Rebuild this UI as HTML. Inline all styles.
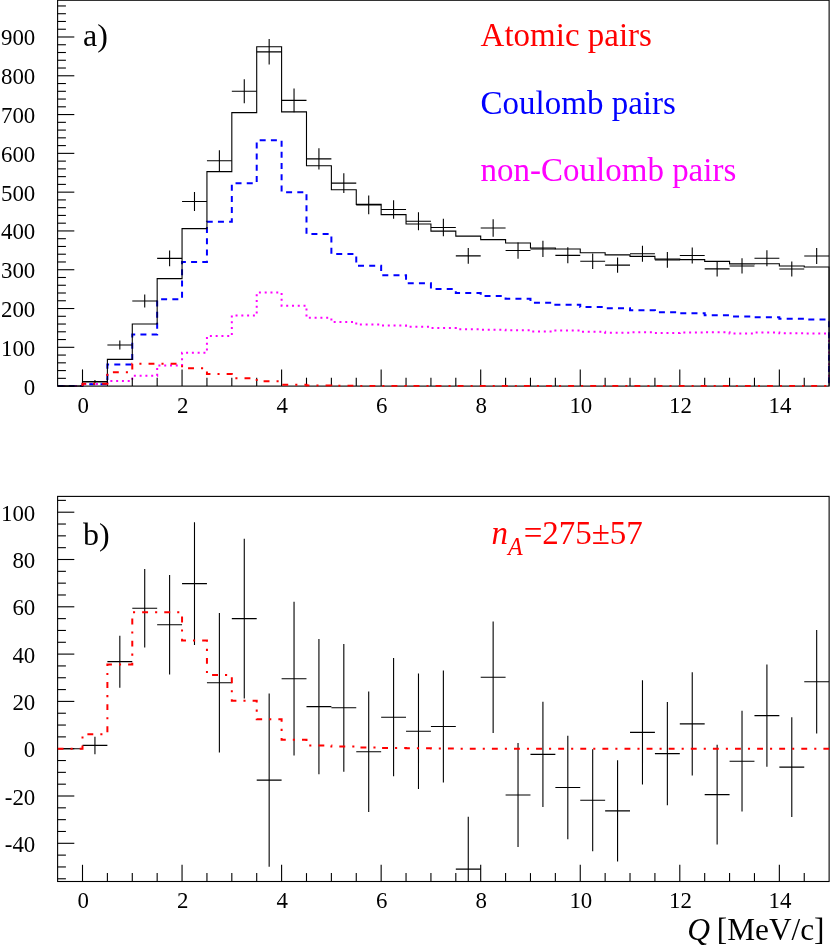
<!DOCTYPE html>
<html><head><meta charset="utf-8"><title>chart</title>
<style>html,body{margin:0;padding:0;background:#fff}body{width:830px;height:947px;position:relative;overflow:hidden;font-family:"Liberation Serif",serif}</style>
</head><body>
<svg width="830" height="947" viewBox="0 0 830 947" style="position:absolute;left:0;top:0">
<rect width="830" height="947" fill="#fff"/>
<clipPath id="ca"><rect x="57.61" y="0.25" width="772.11" height="386.45"/></clipPath>
<clipPath id="cb"><rect x="57.61" y="496.4" width="772.11" height="385.1"/></clipPath>
<g clip-path="url(#ca)" fill="none">
<path d="M57.61 386.1 L57.61 386.1 L82.5 386.1 L82.5 383.97 L107.39 383.97 L107.39 381.06 L132.28 381.06 L132.28 375.63 L157.16 375.63 L157.16 365.54 L182.05 365.54 L182.05 352.74 L206.94 352.74 L206.94 336.06 L231.82 336.06 L231.82 315.5 L256.71 315.5 L256.71 292.62 L281.6 292.62 L281.6 305.8 L306.49 305.8 L306.49 317.83 L331.38 317.83 L331.38 321.9 L356.26 321.9 L356.26 324.62 L381.15 324.62 L381.15 325.59 L406.04 325.59 L406.04 326.87 L430.93 326.87 L430.93 328.07 L455.81 328.07 L455.81 329.23 L480.7 329.23 L480.7 329.66 L505.59 329.66 L505.59 330.24 L530.47 330.24 L530.47 331.41 L555.36 331.41 L555.36 330.44 L580.25 330.44 L580.25 331.76 L605.14 331.76 L605.14 332.76 L630.02 332.76 L630.02 332.3 L654.91 332.3 L654.91 333.04 L679.8 333.04 L679.8 332.57 L704.69 332.57 L704.69 332.18 L729.57 332.18 L729.57 333.62 L754.46 333.62 L754.46 332.61 L779.35 332.61 L779.35 333.35 L804.24 333.35 L804.24 333.58 L829.12 333.58 L829.12 386.1" stroke="#f0f" stroke-width="2" stroke-dasharray="2 3.78"/>
<path d="M57.61 386.1 L57.61 386.1 L82.5 386.1 L82.5 384.16 L107.39 384.16 L107.39 364.38 L132.28 364.38 L132.28 334.51 L157.16 334.51 L157.16 299.21 L182.05 299.21 L182.05 261.97 L206.94 261.97 L206.94 221.63 L231.82 221.63 L231.82 183.23 L256.71 183.23 L256.71 140.17 L281.6 140.17 L281.6 192.15 L306.49 192.15 L306.49 234.04 L331.38 234.04 L331.38 254.02 L356.26 254.02 L356.26 265.85 L381.15 265.85 L381.15 275.16 L406.04 275.16 L406.04 283.31 L430.93 283.31 L430.93 289.12 L455.81 289.12 L455.81 293 L480.7 293 L480.7 296.11 L505.59 296.11 L505.59 298.82 L530.47 298.82 L530.47 302.7 L555.36 302.7 L555.36 304.64 L580.25 304.64 L580.25 307.12 L605.14 307.12 L605.14 308.25 L630.02 308.25 L630.02 310.19 L654.91 310.19 L654.91 312.13 L679.8 312.13 L679.8 313.17 L704.69 313.17 L704.69 315.31 L729.57 315.31 L729.57 316.39 L754.46 316.39 L754.46 317.17 L779.35 317.17 L779.35 318.76 L804.24 318.76 L804.24 319.54 L829.12 319.54 L829.12 386.1" stroke="#00f" stroke-width="2" stroke-dasharray="6 5.2"/>
<path d="M57.61 386.1 L57.61 386.1 L82.5 386.1 L82.5 382.03 L107.39 382.03 L107.39 359.33 L132.28 359.33 L132.28 324.04 L157.16 324.04 L157.16 278.65 L182.05 278.65 L182.05 228.61 L206.94 228.61 L206.94 171.59 L231.82 171.59 L231.82 112.63 L256.71 112.63 L256.71 46.69 L281.6 46.69 L281.6 111.85 L306.49 111.85 L306.49 165.77 L331.38 165.77 L331.38 189.82 L356.26 189.82 L356.26 204.37 L381.15 204.37 L381.15 214.65 L406.04 214.65 L406.04 224.07 L430.93 224.07 L430.93 231.1 L455.81 231.1 L455.81 236.14 L480.7 236.14 L480.7 239.67 L505.59 239.67 L505.59 242.96 L530.47 242.96 L530.47 248.01 L555.36 248.01 L555.36 248.98 L580.25 248.98 L580.25 252.78 L605.14 252.78 L605.14 254.91 L630.02 254.91 L630.02 256.39 L654.91 256.39 L654.91 259.06 L679.8 259.06 L679.8 259.64 L704.69 259.64 L704.69 261.39 L729.57 261.39 L729.57 263.91 L754.46 263.91 L754.46 263.68 L779.35 263.68 L779.35 266.01 L804.24 266.01 L804.24 267.01 L829.12 267.01 L829.12 386.1" stroke="#000" stroke-width="1.1"/>
</g>
<g stroke="#000" stroke-width="1.1" fill="none">
<rect x="57.61" y="0.25" width="771.51" height="385.85"/>
<rect x="57.61" y="496.4" width="771.51" height="385.1"/>
<path d="M82.5 386.1 V369.4"/>
<path d="M107.39 386.1 V377.7"/>
<path d="M132.28 386.1 V377.7"/>
<path d="M157.16 386.1 V377.7"/>
<path d="M182.05 386.1 V369.4"/>
<path d="M206.94 386.1 V377.7"/>
<path d="M231.82 386.1 V377.7"/>
<path d="M256.71 386.1 V377.7"/>
<path d="M281.6 386.1 V369.4"/>
<path d="M306.49 386.1 V377.7"/>
<path d="M331.38 386.1 V377.7"/>
<path d="M356.26 386.1 V377.7"/>
<path d="M381.15 386.1 V369.4"/>
<path d="M406.04 386.1 V377.7"/>
<path d="M430.93 386.1 V377.7"/>
<path d="M455.81 386.1 V377.7"/>
<path d="M480.7 386.1 V369.4"/>
<path d="M505.59 386.1 V377.7"/>
<path d="M530.47 386.1 V377.7"/>
<path d="M555.36 386.1 V377.7"/>
<path d="M580.25 386.1 V369.4"/>
<path d="M605.14 386.1 V377.7"/>
<path d="M630.02 386.1 V377.7"/>
<path d="M654.91 386.1 V377.7"/>
<path d="M679.8 386.1 V369.4"/>
<path d="M704.69 386.1 V377.7"/>
<path d="M729.57 386.1 V377.7"/>
<path d="M754.46 386.1 V377.7"/>
<path d="M779.35 386.1 V369.4"/>
<path d="M804.24 386.1 V377.7"/>
<path d="M82.5 881.5 V864.8"/>
<path d="M107.39 881.5 V873.1"/>
<path d="M132.28 881.5 V873.1"/>
<path d="M157.16 881.5 V873.1"/>
<path d="M182.05 881.5 V864.8"/>
<path d="M206.94 881.5 V873.1"/>
<path d="M231.82 881.5 V873.1"/>
<path d="M256.71 881.5 V873.1"/>
<path d="M281.6 881.5 V864.8"/>
<path d="M306.49 881.5 V873.1"/>
<path d="M331.38 881.5 V873.1"/>
<path d="M356.26 881.5 V873.1"/>
<path d="M381.15 881.5 V864.8"/>
<path d="M406.04 881.5 V873.1"/>
<path d="M430.93 881.5 V873.1"/>
<path d="M455.81 881.5 V873.1"/>
<path d="M480.7 881.5 V864.8"/>
<path d="M505.59 881.5 V873.1"/>
<path d="M530.47 881.5 V873.1"/>
<path d="M555.36 881.5 V873.1"/>
<path d="M580.25 881.5 V864.8"/>
<path d="M605.14 881.5 V873.1"/>
<path d="M630.02 881.5 V873.1"/>
<path d="M654.91 881.5 V873.1"/>
<path d="M679.8 881.5 V864.8"/>
<path d="M704.69 881.5 V873.1"/>
<path d="M729.57 881.5 V873.1"/>
<path d="M754.46 881.5 V873.1"/>
<path d="M779.35 881.5 V864.8"/>
<path d="M804.24 881.5 V873.1"/>
<path d="M57.61 386.1 H74.31"/>
<path d="M57.61 378.34 H65.91"/>
<path d="M57.61 370.58 H65.91"/>
<path d="M57.61 362.83 H65.91"/>
<path d="M57.61 355.07 H65.91"/>
<path d="M57.61 347.31 H74.31"/>
<path d="M57.61 339.55 H65.91"/>
<path d="M57.61 331.79 H65.91"/>
<path d="M57.61 324.04 H65.91"/>
<path d="M57.61 316.28 H65.91"/>
<path d="M57.61 308.52 H74.31"/>
<path d="M57.61 300.76 H65.91"/>
<path d="M57.61 293 H65.91"/>
<path d="M57.61 285.25 H65.91"/>
<path d="M57.61 277.49 H65.91"/>
<path d="M57.61 269.73 H74.31"/>
<path d="M57.61 261.97 H65.91"/>
<path d="M57.61 254.21 H65.91"/>
<path d="M57.61 246.46 H65.91"/>
<path d="M57.61 238.7 H65.91"/>
<path d="M57.61 230.94 H74.31"/>
<path d="M57.61 223.18 H65.91"/>
<path d="M57.61 215.42 H65.91"/>
<path d="M57.61 207.67 H65.91"/>
<path d="M57.61 199.91 H65.91"/>
<path d="M57.61 192.15 H74.31"/>
<path d="M57.61 184.39 H65.91"/>
<path d="M57.61 176.63 H65.91"/>
<path d="M57.61 168.88 H65.91"/>
<path d="M57.61 161.12 H65.91"/>
<path d="M57.61 153.36 H74.31"/>
<path d="M57.61 145.6 H65.91"/>
<path d="M57.61 137.84 H65.91"/>
<path d="M57.61 130.09 H65.91"/>
<path d="M57.61 122.33 H65.91"/>
<path d="M57.61 114.57 H74.31"/>
<path d="M57.61 106.81 H65.91"/>
<path d="M57.61 99.05 H65.91"/>
<path d="M57.61 91.3 H65.91"/>
<path d="M57.61 83.54 H65.91"/>
<path d="M57.61 75.78 H74.31"/>
<path d="M57.61 68.02 H65.91"/>
<path d="M57.61 60.26 H65.91"/>
<path d="M57.61 52.51 H65.91"/>
<path d="M57.61 44.75 H65.91"/>
<path d="M57.61 36.99 H74.31"/>
<path d="M57.61 29.23 H65.91"/>
<path d="M57.61 21.47 H65.91"/>
<path d="M57.61 13.72 H65.91"/>
<path d="M57.61 5.96 H65.91"/>
<path d="M57.61 878.78 H65.91"/>
<path d="M57.61 866.95 H65.91"/>
<path d="M57.61 855.12 H65.91"/>
<path d="M57.61 843.3 H74.31"/>
<path d="M57.61 831.48 H65.91"/>
<path d="M57.61 819.65 H65.91"/>
<path d="M57.61 807.83 H65.91"/>
<path d="M57.61 796 H74.31"/>
<path d="M57.61 784.18 H65.91"/>
<path d="M57.61 772.35 H65.91"/>
<path d="M57.61 760.53 H65.91"/>
<path d="M57.61 748.7 H74.31"/>
<path d="M57.61 736.88 H65.91"/>
<path d="M57.61 725.05 H65.91"/>
<path d="M57.61 713.23 H65.91"/>
<path d="M57.61 701.4 H74.31"/>
<path d="M57.61 689.58 H65.91"/>
<path d="M57.61 677.75 H65.91"/>
<path d="M57.61 665.93 H65.91"/>
<path d="M57.61 654.1 H74.31"/>
<path d="M57.61 642.28 H65.91"/>
<path d="M57.61 630.45 H65.91"/>
<path d="M57.61 618.62 H65.91"/>
<path d="M57.61 606.8 H74.31"/>
<path d="M57.61 594.98 H65.91"/>
<path d="M57.61 583.15 H65.91"/>
<path d="M57.61 571.33 H65.91"/>
<path d="M57.61 559.5 H74.31"/>
<path d="M57.61 547.68 H65.91"/>
<path d="M57.61 535.85 H65.91"/>
<path d="M57.61 524.03 H65.91"/>
<path d="M57.61 512.2 H74.31"/>
<path d="M57.61 500.38 H65.91"/>
</g>
<g clip-path="url(#ca)" fill="none">
<g stroke="#000" stroke-width="1.1">
<path d="M82.5 381.48 H107.39 M94.94 382.98 V379.99"/>
<path d="M107.39 345.06 H132.28 M119.83 349.53 V340.59"/>
<path d="M132.28 300.99 H157.16 M144.72 307.43 V294.56"/>
<path d="M157.16 258.33 H182.05 M169.61 266.21 V250.44"/>
<path d="M182.05 201.54 H206.94 M194.49 211.01 V192.06"/>
<path d="M206.94 160.77 H231.82 M219.38 171.24 V150.3"/>
<path d="M231.82 91.3 H256.71 M244.27 103.27 V79.32"/>
<path d="M256.71 51.85 H281.6 M269.16 64.6 V39.09"/>
<path d="M281.6 100.37 H306.49 M294.04 112.16 V88.58"/>
<path d="M306.49 158.87 H331.38 M318.93 169.38 V148.35"/>
<path d="M331.38 183.11 H356.26 M343.82 193.05 V173.17"/>
<path d="M356.26 204.87 H381.15 M368.71 214.26 V195.48"/>
<path d="M381.15 209.49 H406.04 M393.59 218.76 V200.22"/>
<path d="M406.04 221.2 H430.93 M418.48 230.16 V212.25"/>
<path d="M430.93 227.45 H455.81 M443.37 236.24 V218.66"/>
<path d="M455.81 255.88 H480.7 M468.26 263.84 V247.92"/>
<path d="M480.7 227.95 H505.59 M493.14 236.73 V219.18"/>
<path d="M505.59 250.57 H530.47 M518.03 258.69 V242.45"/>
<path d="M530.47 248.94 H555.36 M542.92 257.11 V240.77"/>
<path d="M555.36 255.34 H580.25 M567.81 263.32 V247.36"/>
<path d="M580.25 261.23 H605.14 M592.69 269.03 V253.44"/>
<path d="M605.14 265.11 H630.02 M617.58 272.79 V257.44"/>
<path d="M630.02 253.71 H654.91 M642.47 261.74 V245.68"/>
<path d="M654.91 259.88 H679.8 M667.36 267.71 V252.04"/>
<path d="M679.8 255.57 H704.69 M692.24 263.54 V247.6"/>
<path d="M704.69 268.92 H729.57 M717.13 276.47 V261.36"/>
<path d="M729.57 265.97 H754.46 M742.02 273.61 V258.32"/>
<path d="M754.46 258.25 H779.35 M766.91 266.14 V250.36"/>
<path d="M779.35 269.03 H804.24 M791.79 276.58 V261.48"/>
<path d="M804.24 256.04 H829.12 M816.68 263.99 V248.08"/>
</g>
<path d="M82.5 386.1 L82.5 383.73 L107.39 383.73 L107.39 372.29 L132.28 372.29 L132.28 363.72 L157.16 363.72 L157.16 363.72 L182.05 363.72 L182.05 368.37 L206.94 368.37 L206.94 374 L231.82 374 L231.82 378.23 L256.71 378.23 L256.71 381.25 L281.6 381.25 L281.6 384.63 L306.49 384.63 L306.49 385.56 L331.38 385.56 L331.38 385.75 L356.26 385.75 L356.26 385.91 L381.15 385.91 L381.15 385.98 L406.04 385.98 L406.04 386.02 L430.93 386.02 L430.93 386.06 L455.81 386.06 L455.81 386.1 L480.7 386.1 L480.7 386.1 L505.59 386.1 L505.59 386.1 L530.47 386.1 L530.47 386.1 L555.36 386.1 L555.36 386.1 L580.25 386.1 L580.25 386.1 L605.14 386.1 L605.14 386.1 L630.02 386.1 L630.02 386.1 L654.91 386.1 L654.91 386.1 L679.8 386.1 L679.8 386.1 L704.69 386.1 L704.69 386.1 L729.57 386.1 L729.57 386.1 L754.46 386.1 L754.46 386.1 L779.35 386.1 L779.35 386.1 L804.24 386.1 L804.24 386.1 L829.12 386.1" stroke="#f00" stroke-width="2" stroke-dasharray="5.9 7.05 2.1 7.05"/>
</g>
<g clip-path="url(#cb)" fill="none">
<g stroke="#000" stroke-width="1.1">
<path d="M57.61 748.7 H82.5"/>
<path d="M82.5 745.39 H107.39 M94.94 754.14 V736.64"/>
<path d="M107.39 661.67 H132.28 M119.83 687.68 V635.65"/>
<path d="M132.28 608.22 H157.16 M144.72 647.48 V568.96"/>
<path d="M157.16 624.77 H182.05 M169.61 674.44 V575.11"/>
<path d="M182.05 583.62 H206.94 M194.49 645.11 V522.13"/>
<path d="M206.94 682.72 H231.82 M219.38 752.48 V612.95"/>
<path d="M231.82 618.62 H256.71 M244.27 698.56 V538.69"/>
<path d="M256.71 780.15 H281.6 M269.16 866.71 V693.6"/>
<path d="M281.6 678.7 H306.49 M294.04 755.56 V601.83"/>
<path d="M306.49 706.6 H331.38 M318.93 774.24 V638.96"/>
<path d="M331.38 707.79 H356.26 M343.82 771.64 V643.93"/>
<path d="M356.26 751.77 H381.15 M368.71 812.08 V691.47"/>
<path d="M381.15 717.25 H406.04 M393.59 776.37 V658.12"/>
<path d="M406.04 731.2 H430.93 M418.48 788.91 V673.49"/>
<path d="M430.93 726.47 H455.81 M443.37 782.52 V670.42"/>
<path d="M455.81 869.08 H480.7 M468.26 921.35 V816.81"/>
<path d="M480.7 677.28 H505.59 M493.14 733.09 V621.46"/>
<path d="M505.59 795.05 H530.47 M518.03 847.08 V743.02"/>
<path d="M530.47 754.38 H555.36 M542.92 806.88 V701.87"/>
<path d="M555.36 787.49 H580.25 M567.81 839.28 V735.69"/>
<path d="M580.25 800.26 H605.14 M592.69 851.34 V749.17"/>
<path d="M605.14 810.9 H630.02 M617.58 861.51 V760.29"/>
<path d="M630.02 732.38 H654.91 M642.47 784.41 V680.35"/>
<path d="M654.91 753.67 H679.8 M667.36 805.22 V702.11"/>
<path d="M679.8 723.87 H704.69 M692.24 775.42 V672.31"/>
<path d="M704.69 794.58 H729.57 M717.13 844.48 V744.68"/>
<path d="M729.57 761.23 H754.46 M742.02 811.61 V710.86"/>
<path d="M754.46 715.59 H779.35 M766.91 766.67 V664.51"/>
<path d="M779.35 767.15 H804.24 M791.79 817.05 V717.25"/>
<path d="M804.24 681.77 H829.12 M816.68 733.56 V629.98"/>
</g>
<path d="M57.61 748.7 L57.61 748.7 L82.5 748.7 L82.5 734.27 L107.39 734.27 L107.39 664.51 L132.28 664.51 L132.28 612.24 L157.16 612.24 L157.16 612.24 L182.05 612.24 L182.05 640.62 L206.94 640.62 L206.94 674.91 L231.82 674.91 L231.82 700.69 L256.71 700.69 L256.71 719.14 L281.6 719.14 L281.6 739.71 L306.49 739.71 L306.49 745.39 L331.38 745.39 L331.38 746.57 L356.26 746.57 L356.26 747.52 L381.15 747.52 L381.15 747.99 L406.04 747.99 L406.04 748.23 L430.93 748.23 L430.93 748.46 L455.81 748.46 L455.81 748.7 L480.7 748.7 L480.7 748.7 L505.59 748.7 L505.59 748.7 L530.47 748.7 L530.47 748.7 L555.36 748.7 L555.36 748.7 L580.25 748.7 L580.25 748.7 L605.14 748.7 L605.14 748.7 L630.02 748.7 L630.02 748.7 L654.91 748.7 L654.91 748.7 L679.8 748.7 L679.8 748.7 L704.69 748.7 L704.69 748.7 L729.57 748.7 L729.57 748.7 L754.46 748.7 L754.46 748.7 L779.35 748.7 L779.35 748.7 L804.24 748.7 L804.24 748.7 L829.12 748.7" stroke="#f00" stroke-width="2" stroke-dasharray="5.9 7.05 2.1 7.05"/>
</g>
<g font-family="'Liberation Serif', serif" fill="#000" opacity="0.999">
<text transform="translate(35.3 394.6) scale(1 1.05)" font-size="22.9" text-anchor="end">0</text>
<text transform="translate(35.3 355.81) scale(1 1.05)" font-size="22.9" text-anchor="end">100</text>
<text transform="translate(35.3 317.02) scale(1 1.05)" font-size="22.9" text-anchor="end">200</text>
<text transform="translate(35.3 278.23) scale(1 1.05)" font-size="22.9" text-anchor="end">300</text>
<text transform="translate(35.3 239.44) scale(1 1.05)" font-size="22.9" text-anchor="end">400</text>
<text transform="translate(35.3 200.65) scale(1 1.05)" font-size="22.9" text-anchor="end">500</text>
<text transform="translate(35.3 161.86) scale(1 1.05)" font-size="22.9" text-anchor="end">600</text>
<text transform="translate(35.3 123.07) scale(1 1.05)" font-size="22.9" text-anchor="end">700</text>
<text transform="translate(35.3 84.28) scale(1 1.05)" font-size="22.9" text-anchor="end">800</text>
<text transform="translate(35.3 45.49) scale(1 1.05)" font-size="22.9" text-anchor="end">900</text>
<text transform="translate(35.3 851.8) scale(1 1.05)" font-size="22.9" text-anchor="end">-40</text>
<text transform="translate(35.3 804.5) scale(1 1.05)" font-size="22.9" text-anchor="end">-20</text>
<text transform="translate(35.3 757.2) scale(1 1.05)" font-size="22.9" text-anchor="end">0</text>
<text transform="translate(35.3 709.9) scale(1 1.05)" font-size="22.9" text-anchor="end">20</text>
<text transform="translate(35.3 662.6) scale(1 1.05)" font-size="22.9" text-anchor="end">40</text>
<text transform="translate(35.3 615.3) scale(1 1.05)" font-size="22.9" text-anchor="end">60</text>
<text transform="translate(35.3 568) scale(1 1.05)" font-size="22.9" text-anchor="end">80</text>
<text transform="translate(35.3 520.7) scale(1 1.05)" font-size="22.9" text-anchor="end">100</text>
<text transform="translate(83.1 412.6) scale(1 1.05)" font-size="22.9" text-anchor="middle">0</text>
<text transform="translate(83.1 907.9) scale(1 1.05)" font-size="22.9" text-anchor="middle">0</text>
<text transform="translate(182.65 412.6) scale(1 1.05)" font-size="22.9" text-anchor="middle">2</text>
<text transform="translate(182.65 907.9) scale(1 1.05)" font-size="22.9" text-anchor="middle">2</text>
<text transform="translate(282.2 412.6) scale(1 1.05)" font-size="22.9" text-anchor="middle">4</text>
<text transform="translate(282.2 907.9) scale(1 1.05)" font-size="22.9" text-anchor="middle">4</text>
<text transform="translate(381.75 412.6) scale(1 1.05)" font-size="22.9" text-anchor="middle">6</text>
<text transform="translate(381.75 907.9) scale(1 1.05)" font-size="22.9" text-anchor="middle">6</text>
<text transform="translate(481.3 412.6) scale(1 1.05)" font-size="22.9" text-anchor="middle">8</text>
<text transform="translate(481.3 907.9) scale(1 1.05)" font-size="22.9" text-anchor="middle">8</text>
<text transform="translate(580.85 412.6) scale(1 1.05)" font-size="22.9" text-anchor="middle">10</text>
<text transform="translate(580.85 907.9) scale(1 1.05)" font-size="22.9" text-anchor="middle">10</text>
<text transform="translate(680.4 412.6) scale(1 1.05)" font-size="22.9" text-anchor="middle">12</text>
<text transform="translate(680.4 907.9) scale(1 1.05)" font-size="22.9" text-anchor="middle">12</text>
<text transform="translate(779.95 412.6) scale(1 1.05)" font-size="22.9" text-anchor="middle">14</text>
<text transform="translate(779.95 907.9) scale(1 1.05)" font-size="22.9" text-anchor="middle">14</text>
<text transform="translate(83 45.8) scale(1 1)" font-size="32">a)</text>
<text transform="translate(83 544.5) scale(1 1)" font-size="32">b)</text>
<text transform="translate(480.6 45.8) scale(1 1.04)" font-size="33" fill="#f00">Atomic pairs</text>
<text transform="translate(480.6 113.5) scale(1 1.04)" font-size="33" fill="#00f">Coulomb pairs</text>
<text transform="translate(480.6 181.2) scale(1 1.04)" font-size="33" fill="#f0f">non-Coulomb pairs</text>
<text transform="translate(491.5 544.2) scale(1 1.04)" font-size="33" fill="#f00"><tspan font-style="italic">n</tspan><tspan font-style="italic" font-size="24" dy="10">A</tspan><tspan dy="-10" dx="1">=275±57</tspan></text>
<text transform="translate(687.2 940.2) scale(1 1.03)" font-size="31.6"><tspan font-style="italic">Q</tspan></text>
<text transform="translate(824.5 940.2) scale(1 1.03)" font-size="31.3" text-anchor="end">[MeV/c]</text>
</g>
</svg>
</body></html>
